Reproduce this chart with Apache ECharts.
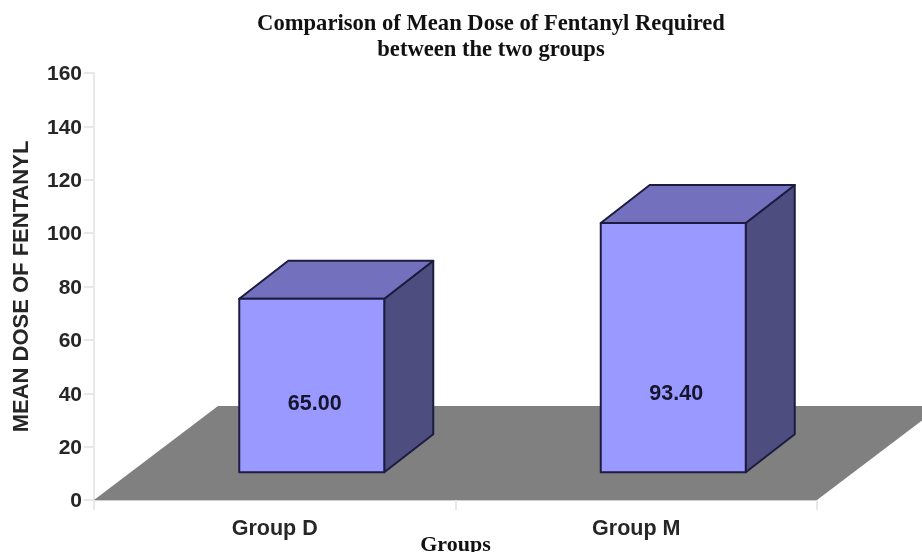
<!DOCTYPE html>
<html>
<head>
<meta charset="utf-8">
<style>html,body{margin:0;padding:0;background:#fff}#chart{width:922px;height:552px}</style>
<script src="https://cdn.jsdelivr.net/npm/echarts@6/dist/echarts.min.js"></script>
</head>
<body>
<div id="chart"></div>
<script>
// Mean fentanyl dose per study group
const categories = ['Group D', 'Group M'];
const meanDose = [65.00, 93.40];
const yTicks = [0, 20, 40, 60, 80, 100, 120, 140, 160];

// Pseudo-3D drawing parameters
const FLOOR_LIFT = 10.4;          // axis units between the floor front edge and a bar's foot
const DEPTH_X = 49, DEPTH_Y = -38; // receding edge of each box, px
const BAR_W = 145, BAR_SHIFT = 37; // front-face width and shift from the band centre, px
const FLOOR_X = 124, FLOOR_Y = -94; // receding edge of the floor, px
const LABEL_DROP = [19, 46];       // label offset below the front-face centre, px
const OUTLINE = '#1c1c40';

const chart = echarts.init(document.getElementById('chart'), null, { renderer: 'canvas' });

function poly(points, fill, stroke) {
  return {
    type: 'polygon',
    shape: { points },
    style: stroke ? { fill, stroke, lineWidth: 2, lineJoin: 'round' } : { fill }
  };
}

function renderFloor(params) {
  const c = params.coordSys;
  const b = c.y + c.height;
  return poly([
    [c.x, b],
    [c.x + c.width, b],
    [c.x + c.width + FLOOR_X, b + FLOOR_Y],
    [c.x + FLOOR_X, b + FLOOR_Y]
  ], '#808080');
}

function renderBox(params, api) {
  const i = api.value(0);
  const value = api.value(1);
  const centre = api.coord([i, 0])[0] + BAR_SHIFT;
  const x0 = centre - BAR_W / 2, x1 = centre + BAR_W / 2;
  const yFoot = api.coord([i, FLOOR_LIFT])[1];
  const yTop = api.coord([i, FLOOR_LIFT + value])[1];
  return {
    type: 'group',
    children: [
      poly([[x1, yTop], [x1 + DEPTH_X, yTop + DEPTH_Y], [x1 + DEPTH_X, yFoot + DEPTH_Y], [x1, yFoot]], '#4d4d80', OUTLINE),
      poly([[x0, yTop], [x0 + DEPTH_X, yTop + DEPTH_Y], [x1 + DEPTH_X, yTop + DEPTH_Y], [x1, yTop]], '#7371bd', OUTLINE),
      poly([[x0, yTop], [x1, yTop], [x1, yFoot], [x0, yFoot]], '#9999ff', OUTLINE),
      {
        type: 'text',
        style: {
          x: centre + 3,
          y: (yTop + yFoot) / 2 + LABEL_DROP[i],
          text: value.toFixed(2),
          fill: '#15152e',
          font: 'bold 21.5px "Liberation Sans", Arial, sans-serif',
          align: 'center',
          verticalAlign: 'middle'
        }
      }
    ]
  };
}

chart.setOption({
  animation: false,
  backgroundColor: '#fff',
  title: {
    text: 'Comparison of Mean Dose of Fentanyl Required\nbetween the two groups',
    left: 486,
    top: 6,
    textAlign: 'center',
    textStyle: {
      fontFamily: '"Liberation Serif", serif',
      fontWeight: 'bold',
      fontSize: 22.6,
      lineHeight: 26,
      color: '#111'
    }
  },
  grid: { left: 94, right: 105, top: 73, bottom: 52, outerBoundsMode: 'none' },
  xAxis: {
    type: 'category',
    data: categories,
    name: 'Groups',
    nameLocation: 'middle',
    nameGap: 34,
    nameMoveOverlap: false,
    nameTextStyle: { fontFamily: '"Liberation Serif", serif', fontWeight: 'bold', fontSize: 22, color: '#111' },
    axisLine: { show: true, lineStyle: { color: '#cfcfcf', width: 2 } },
    axisTick: { show: true, length: 10, lineStyle: { color: '#e8e8e8', width: 2 } },
    axisLabel: { margin: 18, fontFamily: '"Liberation Sans", Arial, sans-serif', fontWeight: 'bold', fontSize: 21.5, color: '#262626' }
  },
  yAxis: {
    type: 'value',
    min: yTicks[0],
    max: yTicks[yTicks.length - 1],
    interval: yTicks[1] - yTicks[0],
    name: 'MEAN DOSE OF FENTANYL',
    nameLocation: 'middle',
    nameGap: 61,
    nameMoveOverlap: false,
    nameTextStyle: { fontFamily: '"Liberation Sans", Arial, sans-serif', fontWeight: 'bold', fontSize: 22, color: '#262626' },
    axisLine: { show: true, lineStyle: { color: '#e8e8e8', width: 2 } },
    axisTick: { show: true, length: 10, lineStyle: { color: '#e8e8e8', width: 2 } },
    axisLabel: {
      margin: 12,
      formatter: '{v|{value}}',
      rich: { v: { padding: [3, 0, 0, 0], fontFamily: '"Liberation Sans", Arial, sans-serif', fontWeight: 'bold', fontSize: 21, color: '#262626' } }
    },
    splitLine: { show: false }
  },
  series: [
    { type: 'custom', silent: true, z: 2, clip: false, data: [[0, 0]], renderItem: renderFloor },
    {
      type: 'custom',
      z: 3,
      clip: false,
      encode: { x: 0, y: 1 },
      data: meanDose.map((v, i) => [i, v]),
      renderItem: renderBox
    }
  ]
});
</script>
</body>
</html>
